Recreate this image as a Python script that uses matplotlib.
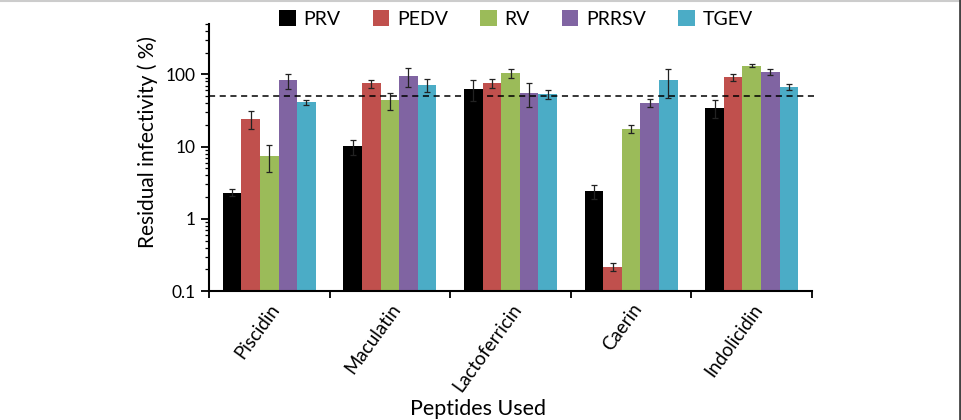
import matplotlib
matplotlib.use("Agg")
import matplotlib.pyplot as plt
import numpy as np
from matplotlib.lines import Line2D
from matplotlib.ticker import LogLocator, FixedLocator, NullFormatter, FuncFormatter

plt.rcParams['font.family'] = ['Lato', 'DejaVu Sans']

peptides = ["Piscidin", "Maculatin", "Lactoferricin", "Caerin", "Indolicidin"]
series = ["PRV", "PEDV", "RV", "PRRSV", "TGEV"]
colors = ["#000000", "#C0504D", "#9BBB59", "#8064A2", "#4BACC6"]

prv = [2.3, 10.1, 63.4, 2.4, 34.2]
pedv = [24.4, 75.0, 75.0, 0.217, 91.0]
rv = [7.4, 43.7, 105.0, 17.8, 132.0]
prrsv = [82.6, 94.0, 55.8, 40.1, 109.0]
tgev = [41.4, 72.0, 53.0, 82.6, 67.6]

prv_err = [0.26, 2.4, 21.0, 0.5, 9.5]
pedv_err = [7.0, 9.5, 11.0, 0.027, 9.0]
rv_err = [3.0, 12.0, 15.0, 2.2, 7.0]
prrsv_err = [20.0, 27.0, 20.0, 5.0, 11.0]
tgev_err = [3.5, 15.0, 8.0, 36.0, 7.0]

threshold = 50

values = [prv, pedv, rv, prrsv, tgev]
errors = [prv_err, pedv_err, rv_err, prrsv_err, tgev_err]

fig = plt.figure(figsize=(9.61, 4.20), dpi=100)
ax = fig.add_axes([209/961, 1-291/420, (812-209)/961, (291-24)/420])

x = np.arange(len(peptides))
bw = 0.154
for i, (s, v, e, c) in enumerate(zip(series, values, errors, colors)):
    pos = x + (i - 2) * bw
    ax.bar(pos, v, width=bw, color=c, label=s, zorder=2)
    ax.errorbar(pos, v, yerr=e, fmt='none', ecolor='#222222', elinewidth=0.9,
                capsize=2.5, capthick=0.9, zorder=3)

ax.plot([-0.5, 4.55], [threshold, threshold], ls=(0, (4, 3)), color='black',
        lw=1.1, clip_on=False, zorder=4)

ax.set_yscale('log')
ax.set_ylim(0.1, 500)
ax.set_xlim(-0.5, 4.5)
ax.yaxis.set_major_locator(FixedLocator([0.1, 1, 10, 100]))
ax.yaxis.set_major_formatter(FuncFormatter(lambda v, p: f"{v:g}"))
ax.yaxis.set_minor_locator(LogLocator(base=10, subs=np.arange(2, 10)))
ax.yaxis.set_minor_formatter(NullFormatter())

ax.set_xticks(np.arange(-0.5, 5.0, 1.0), minor=False)
ax.set_xticklabels([])
ax.set_xticks(x, minor=True)
ax.set_xticklabels(peptides, minor=True, rotation=54, ha='right',
                   rotation_mode='anchor', fontsize=13.5)
ax.tick_params(axis='x', which='minor', length=0, pad=7)
ax.tick_params(axis='x', which='major', length=5, width=1.3, direction='out')
ax.tick_params(axis='y', which='major', length=6, width=1.3, direction='out',
               labelsize=12.5)
ax.tick_params(axis='y', which='minor', length=3, width=0.9, direction='out')

for sp in ['top', 'right']:
    ax.spines[sp].set_visible(False)
for sp in ['left', 'bottom']:
    ax.spines[sp].set_linewidth(1.5)

ax.set_ylabel("Residual infectivity ( %)", fontsize=15)
ax.yaxis.set_label_coords(-0.084, 0.558)
ax.set_xlabel("Peptides Used", fontsize=15.5)
ax.xaxis.set_label_coords(0.446, -0.405)

leg = ax.legend(loc='center', bbox_to_anchor=(516/961, 1-19/420),
                bbox_transform=fig.transFigure, ncol=5, frameon=False,
                fontsize=14, handlelength=0.85, handleheight=0.85,
                handletextpad=0.4, columnspacing=1.65)

fig.add_artist(Line2D([0, 1], [1-1/420, 1-1/420], transform=fig.transFigure,
                      color='#cccccc', lw=1.5))
fig.add_artist(Line2D([1-1.5/961, 1-1.5/961], [0, 1], transform=fig.transFigure,
                      color='#444444', lw=2))

fig.savefig("out.png", dpi=100)
